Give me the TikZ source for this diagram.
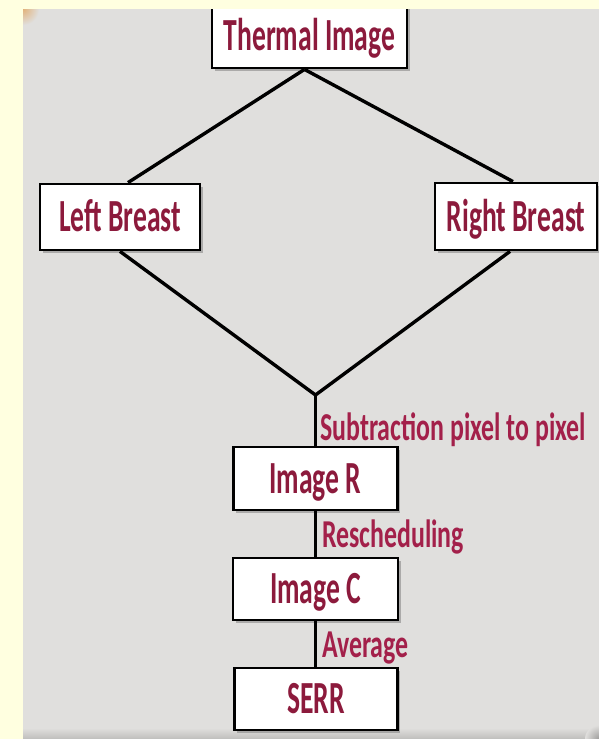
\documentclass[tikz,border=0pt]{standalone}
\usepackage{fontspec}
\newfontfamily\boxfont[FakeStretch=0.6]{Carlito}
\newfontfamily\lblfont[FakeStretch=0.655]{Carlito}
\usetikzlibrary{shadows}
\definecolor{bgyellow}{HTML}{FFFFE0}
\definecolor{panelgray}{HTML}{E0DFDD}
\definecolor{boxtext}{HTML}{8C1A3C}
\definecolor{labeltext}{HTML}{A3204A}
\definecolor{glow}{HTML}{E2B27A}
\tikzset{
  box/.style={draw=black, line width=2.8pt, fill=white, inner sep=0pt,
    text height=29pt, text depth=0pt,
    font=\boxfont\bfseries\fontsize{46}{46}\selectfont, text=boxtext,
    drop shadow={shadow xshift=2.5pt, shadow yshift=-2.5pt, opacity=0.55}},
  lbl/.style={anchor=base west, inner sep=0pt,
    font=\lblfont\bfseries\fontsize{39.5}{40}\selectfont, text=labeltext},
  conn/.style={line width=3.4pt, draw=black, line join=miter}
}
\begin{document}
\begin{tikzpicture}[x=1pt,y=-1pt]
\useasboundingbox (0,0) rectangle (599,739);
% backgrounds
\fill[bgyellow] (0,0) rectangle (599,739);
\fill[panelgray] (23,9) rectangle (599,739);
\begin{scope}
  \clip (23,9) rectangle (599,739);
  \shade[inner color=glow, outer color=panelgray] (23,9) circle (16);
  \shade[inner color=glow, outer color=panelgray] (23,739) circle (8);
  \shade[top color=panelgray, bottom color=panelgray!85!black] (23,728) rectangle (599,739);
  \shade[inner color=panelgray!70!black, outer color=panelgray] (599,739) circle (14);
\end{scope}
% nodes
\node[box, minimum width=195pt, minimum height=64pt] (ti) at (309.5,36) {Thermal Image};
\node[box, minimum width=160pt, minimum height=66pt] (lb) at (120,217) {Left Breast};
\node[box, minimum width=162pt, minimum height=67pt] (rb) at (516,216.5) {Right Breast};
\node[box, minimum width=164pt, minimum height=63pt] (ir) at (315.5,478.5) {Image R};
\node[box, minimum width=165pt, minimum height=62pt] (ic) at (315.5,589) {Image C};
\node[box, minimum width=163pt, minimum height=62pt] (se) at (316,699) {SERR};
\coordinate (apex) at (315.5,395);
% connectors
\draw[conn] ([xshift=-5pt]ti.south) -- ([xshift=8pt]lb.north);
\draw[conn] ([xshift=-5pt]ti.south) -- ([xshift=-3pt]rb.north);
\draw[conn] (lb.south) -- (apex) -- ([xshift=-6pt]rb.south);
\draw[conn] (apex) -- (ir.north);
\draw[conn] (ir.south) -- (ir.south |- ic.north);
\draw[conn] (ic.south) -- (ic.south |- se.north);
% labels
\node[lbl] (l1) at (320,440) {Subtraction pixel to pixel};
\node[lbl] (l2) at (322,547) {Rescheduling};
\node[lbl] (l3) at (322,657) {Average};
% top strip covering box top
\fill[bgyellow] (0,0) rectangle (599,9);
\end{tikzpicture}
\end{document}
